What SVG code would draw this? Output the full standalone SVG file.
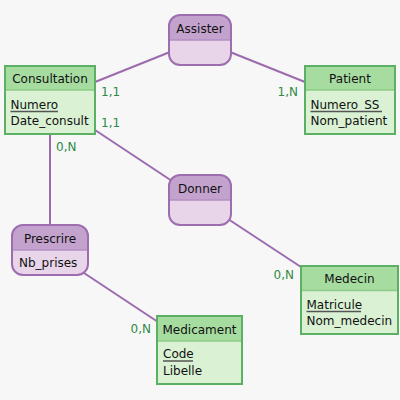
<svg xmlns="http://www.w3.org/2000/svg" width="400" height="400" viewBox="0 0 400 400">
<style>
text{font-family:"DejaVu Sans",Verdana,sans-serif;font-size:12px;fill:#111}
.eh{fill:#a6dca0}
.eb{fill:#daf1d4}
.eo{fill:none;stroke:#5cb063;stroke-width:2}
.es{stroke:#8ccc86;stroke-width:1.5}
.ah{fill:#c3a3cd}
.ab{fill:#e8d5e9}
.ao{fill:none;stroke:#9d6db0;stroke-width:2}
.as{stroke:#b38fc2;stroke-width:1.5}
.c{fill:#2e8a44}
.ul{stroke:#555;stroke-width:1.5}
.ln{stroke:#9b6bae;stroke-width:2;fill:none}
.m{text-anchor:middle}
.e{text-anchor:end}
</style>
<rect width="400" height="400" fill="#f7f7f7"/>
<g id="connectors">
<line class="ln" x1="95" y1="82" x2="170" y2="52"/>
<line class="ln" x1="230" y1="52" x2="305" y2="82"/>
<line class="ln" x1="95" y1="130" x2="172" y2="181"/>
<line class="ln" x1="50" y1="134" x2="50" y2="225"/>
<line class="ln" x1="84" y1="273" x2="158" y2="322"/>
<line class="ln" x1="228" y1="219" x2="301" y2="267"/>
<text class="c" x="101" y="96">1,1</text>
<text class="c" x="101" y="127">1,1</text>
<text class="c e" x="298" y="96">1,N</text>
<text class="c" x="56" y="151">0,N</text>
<text class="c e" x="294" y="279">0,N</text>
<text class="c e" x="151" y="333">0,N</text>
</g>
<g id="Consultation">
<rect class="eb" x="5" y="66" width="90" height="68"/>
<rect class="eh" x="5" y="66" width="90" height="24"/>
<line class="es" x1="6" y1="90" x2="94" y2="90"/>
<rect class="eo" x="5" y="66" width="90" height="68"/>
<text class="m" x="50" y="83">Consultation</text>
<text x="10.5" y="109">Numero</text>
<line class="ul" x1="10.5" y1="111.5" x2="58" y2="111.5"/>
<text x="10.5" y="125">Date_consult</text>
</g>
<g id="Patient">
<rect class="eb" x="305" y="66" width="90" height="68"/>
<rect class="eh" x="305" y="66" width="90" height="24"/>
<line class="es" x1="306" y1="90" x2="394" y2="90"/>
<rect class="eo" x="305" y="66" width="90" height="68"/>
<text class="m" x="350" y="83">Patient</text>
<text x="310.5" y="109">Numero_SS</text>
<line class="ul" x1="310.5" y1="111.5" x2="382" y2="111.5"/>
<text x="310.5" y="125">Nom_patient</text>
</g>
<g id="Medecin">
<rect class="eb" x="301" y="266" width="97" height="68"/>
<rect class="eh" x="301" y="266" width="97" height="24"/>
<line class="es" x1="302" y1="290.5" x2="397" y2="290.5"/>
<rect class="eo" x="301" y="266" width="97" height="68"/>
<text class="m" x="349.5" y="283">Medecin</text>
<text x="306.5" y="309">Matricule</text>
<line class="ul" x1="306.5" y1="311.5" x2="361" y2="311.5"/>
<text x="306.5" y="325">Nom_medecin</text>
</g>
<g id="Medicament">
<rect class="eb" x="157" y="316" width="85" height="68"/>
<rect class="eh" x="157" y="316" width="85" height="25"/>
<line class="es" x1="158" y1="341" x2="241" y2="341"/>
<rect class="eo" x="157" y="316" width="85" height="68"/>
<text class="m" x="199.5" y="334">Medicament</text>
<text x="163" y="358">Code</text>
<line class="ul" x1="163" y1="361" x2="193" y2="361"/>
<text x="163" y="375">Libelle</text>
</g>
<defs>
<clipPath id="cA"><rect x="169" y="15" width="62" height="50" rx="11"/></clipPath>
<clipPath id="cD"><rect x="169" y="175" width="62" height="50" rx="11"/></clipPath>
<clipPath id="cP"><rect x="12" y="225" width="76" height="50" rx="11"/></clipPath>
</defs>
<g id="Assister">
<g clip-path="url(#cA)">
<rect class="ab" x="169" y="15" width="62" height="50"/>
<rect class="ah" x="169" y="15" width="62" height="25"/>
<line class="as" x1="169" y1="40" x2="231" y2="40"/>
</g>
<rect class="ao" x="169" y="15" width="62" height="50" rx="11"/>
<text class="m" x="200" y="33">Assister</text>
</g>
<g id="Donner">
<g clip-path="url(#cD)">
<rect class="ab" x="169" y="175" width="62" height="50"/>
<rect class="ah" x="169" y="175" width="62" height="25"/>
<line class="as" x1="169" y1="200" x2="231" y2="200"/>
</g>
<rect class="ao" x="169" y="175" width="62" height="50" rx="11"/>
<text class="m" x="200" y="193">Donner</text>
</g>
<g id="Prescrire">
<g clip-path="url(#cP)">
<rect class="ab" x="12" y="225" width="76" height="50"/>
<rect class="ah" x="12" y="225" width="76" height="25"/>
<line class="as" x1="12" y1="250" x2="88" y2="250"/>
</g>
<rect class="ao" x="12" y="225" width="76" height="50" rx="11"/>
<text class="m" x="50" y="243">Prescrire</text>
<text x="19" y="267">Nb_prises</text>
</g>
</svg>
